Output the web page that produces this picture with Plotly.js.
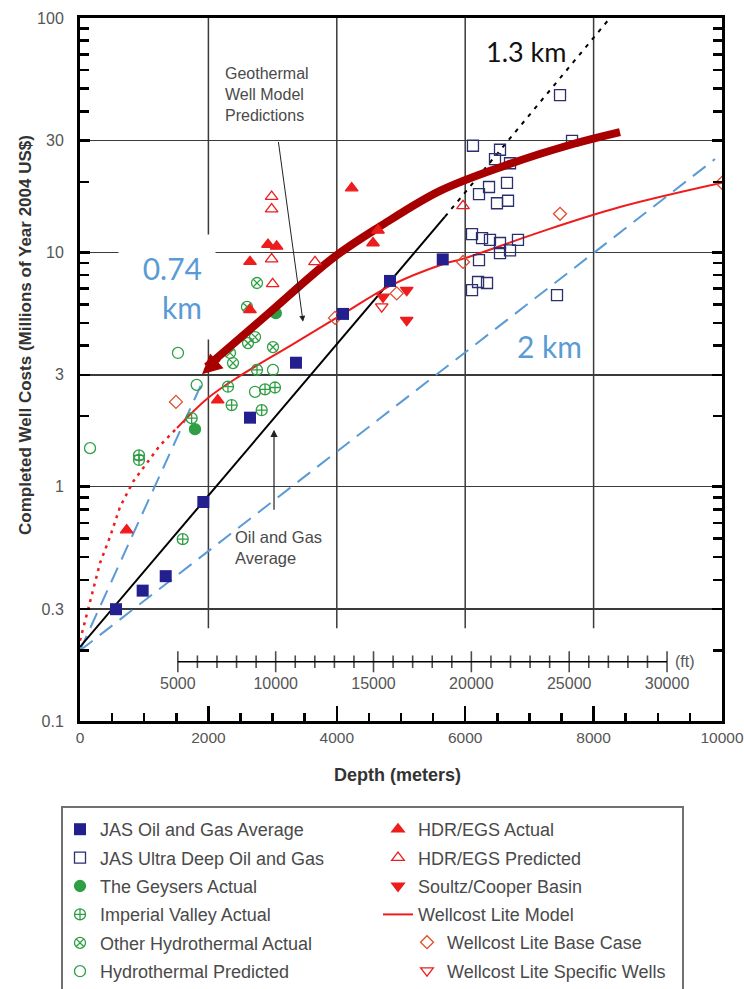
<!DOCTYPE html>
<html>
<head>
<meta charset="utf-8">
<script src="https://cdn.plot.ly/plotly-3.0.1.min.js"></script>
<style>html,body{margin:0;padding:0;background:#fff;}#chart{width:744px;height:989px;}</style>
</head>
<body>
<div id="chart"></div>
<script>
// ---------- data (depth in m, cost in millions of 2004 US$) ----------
const jasAvgDepth = [561, 976, 1335, 1921, 2648, 3364, 4097, 4829, 5650];
const jasAvgCost  = [0.30, 0.36, 0.415, 0.86, 1.97, 3.38, 5.46, 7.55, 9.33];

const jasDeepDepth = [7477, 6121, 6542, 6464, 6698, 7664, 6651, 6371, 6215, 6495, 6667, 6106, 6262, 6386, 6542, 6822, 6698, 6542, 6215, 6106, 6200, 6340, 7430];
const jasDeepCost  = [46.9, 28.5, 27.4, 25.0, 24.0, 29.9, 19.8, 19.0, 17.7, 16.2, 16.6, 11.97, 11.5, 11.3, 10.96, 11.3, 10.2, 9.93, 9.27, 6.90, 7.47, 7.4, 6.57];

const geysersDepth = [1791, 3050];
const geysersCost  = [1.76, 5.5];

const imperialDepth = [919, 919, 1600, 1739, 2305, 2362, 2757, 2830, 2882, 3037];
const imperialCost  = [1.36, 1.30, 0.597, 1.96, 2.67, 2.23, 3.15, 2.12, 2.6, 2.65];

const otherHydroDepth = [2757, 2601, 2617, 2726, 2336, 2383, 3006];
const otherHydroCost  = [7.40, 5.85, 4.10, 4.35, 3.72, 3.37, 3.94];

const hydroPredDepth = [156, 1526, 1817, 2726, 3006];
const hydroPredCost  = [1.46, 3.72, 2.72, 2.54, 3.15];

const hdrActDepth = [727, 2145, 2648, 2928, 3063, 2648, 4232, 4642, 4564];
const hdrActCost  = [0.653, 2.34, 9.12, 10.8, 10.6, 5.68, 18.8, 12.4, 10.96];

const hdrPredDepth = [2985, 2985, 2985, 3001, 3660, 5966];
const hdrPredCost  = [17.3, 15.3, 9.36, 7.33, 9.1, 15.8];

const soultzDepth = [5089, 5089, 4720];
const soultzCost  = [6.9, 5.14, 6.45];

const baseCaseDepth = [1495, 3972, 4933, 5966, 7477, 10000];
const baseCaseCost  = [2.30, 5.25, 6.68, 9.1, 14.6, 19.8];

const specificDepth = [4700];
const specificCost  = [5.86];

const wellcostDotDepth = [0, 125, 312, 467, 623, 826, 1044, 1246, 1511];
const wellcostDotCost  = [0.22, 0.297, 0.472, 0.61, 0.819, 1.05, 1.27, 1.50, 1.78];
const wellcostDepth = [1511, 1994, 2492, 3318, 4097, 4829, 5650, 6000, 7165, 8411, 10000];
const wellcostCost  = [1.78, 2.39, 2.97, 4.06, 5.46, 7.2, 8.9, 9.45, 12.2, 15.6, 19.8];

const geoModelDepth = [1974, 2908, 3941, 4673, 5607, 6646, 7679, 8411];
const geoModelCost  = [3.25, 5.40, 9.46, 12.9, 18.3, 23.6, 29.0, 32.6];

const oilGasDepth = [0, 5685];
const oilGasCost  = [0.207, 14.2];
const oilGasExtDepth = [5685, 8255];
const oilGasExtCost  = [14.2, 100];

const efold074Depth = [0, 1920];
const efold074Cost  = [0.2, 2.85];
const efold2Depth = [0, 9890];
const efold2Cost  = [0.2, 25];

const yTickVals = [0.1, 0.3, 1, 3, 10, 30, 100];
const yTickText = ['0.1', '0.3', '1', '3', '10', '30', '100'];
const yMinorVals = [0.2, 0.4, 0.5, 0.6, 0.7, 0.8, 0.9, 2, 4, 5, 6, 7, 8, 9, 20, 40, 50, 60, 70, 80, 90];
const xTickVals = [0, 2000, 4000, 6000, 8000, 10000];
const xTickText = ['0', '2000', '4000', '6000', '8000', '10000'];
const xGridVals = [2000, 4000, 6000, 8000];
const ftTicks = [5000, 6000, 7000, 8000, 9000, 10000, 11000, 12000, 13000, 14000, 15000, 16000, 17000, 18000, 19000, 20000, 21000, 22000, 23000, 24000, 25000, 26000, 27000, 28000, 29000, 30000];
const ftLabels = [5000, 10000, 15000, 20000, 25000, 30000];
const ftLabelText = ['5000', '10000', '15000', '20000', '25000', '30000'];
const ftAxisLevel = 0.179;   // vertical placement of the feet scale (in cost units)

// ---------- styles ----------
const NAVY = '#231f8f', NAVY2 = '#2b2f6e', GREEN = '#2f9e44', RED = '#ee1c1c',
      ORANGE = '#e04b2b', DARKRED = '#a80000', BLUE = '#5b9bd5', GRID = '#3a3a3a';
const TXT = 'Liberation Sans, Arial, sans-serif';
const L = Math.log10;

function pts(name, x, y, symbol, color, legend, rank, extra) {
  return Object.assign({
    type: 'scatter', mode: 'markers', name: name, x: x, y: y,
    marker: {symbol: symbol, color: color, size: 11, line: {color: color, width: 1.3}},
    legend: legend, legendgroup: name, legendrank: rank, hoverinfo: 'skip'
  }, extra || {});
}
function line(x, y, color, width, dash, extra) {
  return Object.assign({
    type: 'scatter', mode: 'lines', x: x, y: y, showlegend: false,
    line: {color: color, width: width, dash: dash}, hoverinfo: 'skip'
  }, extra || {});
}

const traces = [
  line(efold2Depth, efold2Cost, BLUE, 2, '16px,9px'),
  line(efold074Depth, efold074Cost, BLUE, 2, '16px,9px'),
  line(oilGasDepth, oilGasCost, '#000', 2),
  line(oilGasExtDepth, oilGasExtCost, '#000', 2, '4px,6px'),
  line(wellcostDotDepth, wellcostDotCost, RED, 2.5, '3px,5px'),
  {type: 'scatter', mode: 'lines', name: 'Wellcost Lite Model', x: wellcostDepth, y: wellcostCost,
   line: {color: RED, width: 2, shape: 'spline'}, legend: 'legend2', legendgroup: 'wlm', legendrank: 4, hoverinfo: 'skip'},
  pts('JAS Ultra Deep Oil and Gas', jasDeepDepth, jasDeepCost, 'square-open', NAVY2, 'legend', 2),
  pts('Hydrothermal Predicted', hydroPredDepth, hydroPredCost, 'circle-open', GREEN, 'legend', 6),
  pts('Imperial Valley Actual', imperialDepth, imperialCost, 'circle-cross-open', GREEN, 'legend', 4),
  pts('Other Hydrothermal Actual', otherHydroDepth, otherHydroCost, 'circle-x-open', GREEN, 'legend', 5),
  pts('The Geysers Actual', geysersDepth, geysersCost, 'circle', GREEN, 'legend', 3),
  pts('Wellcost Lite Base Case', baseCaseDepth, baseCaseCost, 'diamond-open', ORANGE, 'legend3', 1, {marker: {symbol: 'diamond-open', color: ORANGE, size: 10, line: {color: ORANGE, width: 1.3}}}),
  pts('Wellcost Lite Specific Wells', specificDepth, specificCost, 'triangle-down-open', RED, 'legend3', 2),
  pts('JAS Oil and Gas Average', jasAvgDepth, jasAvgCost, 'square', NAVY, 'legend', 1, {marker: {symbol: 'square', color: NAVY, size: 12}}),
  line(geoModelDepth, geoModelCost, DARKRED, 8, 'solid', {line: {color: DARKRED, width: 8, shape: 'spline'}}),
  pts('HDR/EGS Predicted', hdrPredDepth, hdrPredCost, 'triangle-up-open', RED, 'legend2', 2),
  pts('HDR/EGS Actual', hdrActDepth, hdrActCost, 'triangle-up', RED, 'legend2', 1),
  pts('Soultz/Cooper Basin', soultzDepth, soultzCost, 'triangle-down', RED, 'legend2', 3),
  // feet scale
  {type: 'scatter', mode: 'lines+markers', xaxis: 'x3', yaxis: 'y', x: ftTicks,
   y: ftTicks.map(() => ftAxisLevel), showlegend: false, hoverinfo: 'skip',
   line: {color: '#000', width: 1.5},
   marker: {symbol: 'line-ns-open', color: '#000', size: ftTicks.map(v => (v % 5000 === 0 ? 15 : 9)), line: {color: '#000', width: 1.6}}}
];

function txt(text, px, py, size, color, extra) {
  return Object.assign({text: text, xref: 'paper', yref: 'paper', x: (px - 80) / 642, y: (721 - py) / 703,
    showarrow: false, font: {family: TXT, size: size, color: color}, xanchor: 'left', yanchor: 'middle'}, extra || {});
}

const annotations = [
  txt('Geothermal<br>Well Model<br>Predictions', 223, 95, 16, '#4a4a4a', {align: 'left'}),
  txt('Oil and Gas<br>Average', 233, 547, 16.5, '#4a4a4a', {align: 'left'}),
  {text: ' ', x: 3474, y: L(5.05), xref: 'x', yref: 'y', showarrow: true, ax: -26, ay: -190,
   arrowhead: 2, arrowsize: 1.2, arrowwidth: 1, arrowcolor: '#222'},
  {text: ' ', x: 3022, y: L(1.75), xref: 'x', yref: 'y', showarrow: true, ax: 0, ay: 90,
   arrowhead: 2, arrowsize: 1.2, arrowwidth: 1.2, arrowcolor: '#222'},
  {text: ' ', x: 1900, y: L(3.02), xref: 'x', yref: 'y', showarrow: true, ax: 20, ay: -18,
   arrowhead: 2, arrowsize: 0.8, arrowwidth: 5, arrowcolor: DARKRED},
  txt('1.3 km', 526, 52, 27, '#111', {xanchor: 'center', font: {family: 'Lato, Open Sans, sans-serif', size: 27, color: '#111'}}),
  txt('2 km', 549, 346, 30, BLUE, {xanchor: 'center', font: {family: 'Lato, Open Sans, sans-serif', size: 30, color: BLUE}}),
  txt('0.74<br>km', 166.5, 287.5, 30, BLUE, {xanchor: 'center', align: 'right', bgcolor: '#fff',
   width: 70, height: 78, borderpad: 13, font: {family: 'Lato, Open Sans, sans-serif', size: 30, color: BLUE}}),
  {text: '(ft)', xref: 'x3', yref: 'y', x: 30000, y: L(ftAxisLevel), xanchor: 'left', yanchor: 'middle',
   xshift: 6, showarrow: false, font: {family: TXT, size: 16, color: '#555'}},
  txt('<b>Completed Well Costs (Millions of Year 2004 US$)</b>', 25, 335, 17, '#333', {xanchor: 'center', textangle: -90}),
  txt('<b>Depth (meters)</b>', 397, 775, 18, '#333', {xanchor: 'center'})
];

// vertical grid lines stop above the feet scale
const gridShapes = xGridVals.map(v => ({type: 'line', xref: 'x', yref: 'paper', x0: v, x1: v, y0: 0.132, y1: 1,
  line: {color: GRID, width: 1.5}, layer: 'below'}));

const axisFont = {family: TXT, size: 16, color: '#555'};
const xTickFont = {family: TXT, size: 15.5, color: '#555'};
const legendFont = {family: TXT, size: 18, color: '#4a4a4a'};

const layout = {
  width: 744, height: 989,
  margin: {l: 80, r: 22, t: 18, b: 268, autoexpand: false},
  paper_bgcolor: '#fff', plot_bgcolor: 'rgba(0,0,0,0)',
  showlegend: true,
  xaxis: {range: [0, 10000], tickmode: 'array', tickvals: xTickVals, ticktext: xTickText, ticks: 'inside', ticklen: 15, tickwidth: 2.5, tickcolor: '#000',
          showline: true, linewidth: 3, linecolor: '#000', mirror: true, zeroline: false,
          showgrid: false, tickfont: xTickFont, ticklabelstandoff: 0, ticklabeloverflow: 'allow',
          minor: {dtick: 500, ticks: 'inside', ticklen: 8, tickwidth: 2.5, tickcolor: '#000', showgrid: false}},
  yaxis: {type: 'log', range: [-1, 2], tickmode: 'array', tickvals: yTickVals, ticktext: yTickText, ticks: 'inside', ticklen: 10,
          tickwidth: 2.5, tickcolor: '#000', showline: true, linewidth: 3, linecolor: '#000', mirror: 'ticks',
          showgrid: true, gridcolor: GRID, gridwidth: 1.5, zeroline: false, tickfont: axisFont, ticklabelstandoff: 10,
          minor: {tickmode: 'array', tickvals: yMinorVals, ticks: 'inside', ticklen: 9, tickwidth: 2.5, tickcolor: '#000', showgrid: false}},
  xaxis3: {range: [0, 32808.4], overlaying: 'x', anchor: 'free', position: 0.0839, side: 'bottom',
           tickmode: 'array', tickvals: ftLabels, ticktext: ftLabelText, ticks: 'outside', ticklen: 7, tickcolor: 'rgba(0,0,0,0)', showline: false,
           showgrid: false, zeroline: false, tickfont: axisFont, ticklabeloverflow: 'allow'},
  legend: {x: (60 - 80) / 642, y: (721 - 811) / 703, xanchor: 'left', yanchor: 'top', bgcolor: 'rgba(0,0,0,0)',
           borderwidth: 0, font: legendFont, tracegroupgap: 2, orientation: 'v'},
  legend2: {x: (378 - 80) / 642, y: (721 - 811) / 703, xanchor: 'left', yanchor: 'top', bgcolor: 'rgba(0,0,0,0)',
            borderwidth: 0, font: legendFont, tracegroupgap: 2, orientation: 'v'},
  legend3: {x: (407 - 80) / 642, y: (721 - 924) / 703, xanchor: 'left', yanchor: 'top', bgcolor: 'rgba(0,0,0,0)',
            borderwidth: 0, font: legendFont, tracegroupgap: 2, orientation: 'v'},
  shapes: gridShapes.concat([
    {type: 'rect', xref: 'paper', yref: 'paper', x0: (62 - 80) / 642, x1: (683 - 80) / 642,
     y0: (721 - 1000) / 703, y1: (721 - 807) / 703, line: {color: '#707070', width: 2}, fillcolor: 'rgba(0,0,0,0)', layer: 'above'}
  ]),
  annotations: annotations
};

Plotly.newPlot('chart', traces, layout, {displayModeBar: false, staticPlot: true});
</script>
</body>
</html>
